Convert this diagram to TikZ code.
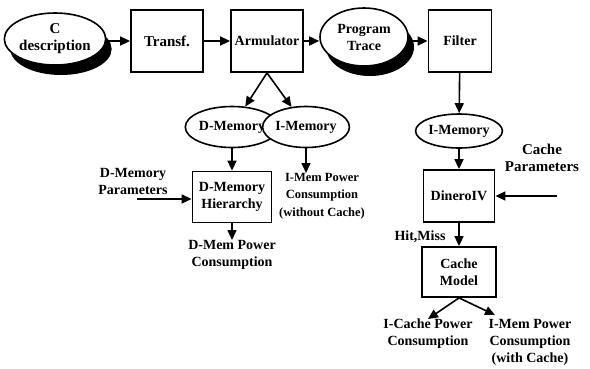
\documentclass[tikz,border=0pt]{standalone}
\usepackage{fontspec}
\setmainfont{Liberation Serif}
\usetikzlibrary{positioning, arrows.meta, shapes.geometric, shadows}

\begin{document}
\begin{tikzpicture}[
    x=1pt, y=-1pt,
    every node/.style={align=center, inner sep=0pt, font=\bfseries\fontsize{14}{17}\selectfont},
    block/.style={draw, line width=1.8pt, minimum width=72pt, minimum height=62pt},
    store/.style={ellipse, draw, fill=white, line width=1.6pt, inner sep=0pt},
    source/.style={store, drop shadow={shadow xshift=6pt, shadow yshift=-10pt, fill=black, opacity=1}},
    arr/.style={draw, -{Triangle[length=10pt, width=9pt]}, line width=1.6pt}
]
\useasboundingbox (0,0) rectangle (590,368);

% simulation flow along the top
\node[source, minimum width=83pt, minimum height=52pt, font=\bfseries\fontsize{15}{17}\selectfont] (cdesc) at (55,39) {C\\description};
\node[block, font=\bfseries\fontsize{15}{17}\selectfont] (transf) at (167,41) {Transf.};
\node[block] (arm) at (267,41) {Armulator};
\node[source, minimum width=88pt, minimum height=58pt] (trace) at (364,37) {Program\\Trace};
\node[block, minimum width=63pt] (filter) at (460,41) {Filter};

% data memory branch
\node[store, minimum width=78pt, minimum height=41pt] (dmem) at (232,127) {D-Memory};
\node[store, minimum width=69pt, minimum height=41pt] (imem) at (306,127) {I-Memory};
\node[block, minimum width=79pt, minimum height=51pt] (dhier) at (232,197) {D-Memory\\Hierarchy};
\node (dpar) at (133,181) {D-Memory\\Parameters};
\coordinate (dparin) at (137,199);
\node[anchor=north] (dpow) at (232,240) {D-Mem Power\\Consumption};
\node[anchor=north, font=\bfseries\fontsize{12.5}{17.5}\selectfont] (ipow) at (322,173) {I-Mem Power\\Consumption\\(without Cache)};

% instruction memory branch
\node[store, minimum width=70pt, minimum height=34pt] (icode) at (459,131) {I-Memory};
\node[block, minimum width=71pt, minimum height=52pt] (dinero) at (459,196) {DineroIV};
\node[font=\bfseries\fontsize{15}{17}\selectfont] (cpar) at (542,158) {Cache\\Parameters};
\coordinate (cparin) at (557,196);
\node (hit) at (420,237) {Hit,Miss};
\node[block, minimum width=74pt, minimum height=50pt] (cmodel) at (459,272) {Cache\\Model};
\node[anchor=north] (icpow) at (428,319) {I-Cache Power\\Consumption};
\node[anchor=north] (impow) at (530,319) {I-Mem Power\\Consumption\\(with Cache)};
\coordinate (imtip) at (495,315);

% connectors
\draw[arr] (cdesc.east |- transf) -- (transf.west);
\draw[arr] (transf) -- (arm);
\draw[arr] (arm.east) -- (arm.east -| trace.west);
\draw[arr] (trace.east |- filter) -- (filter.west);
\draw[arr] (arm.south) -- (dmem);
\draw[arr] (arm.south) -- (imem);
\draw[arr] (dmem) -- (dhier);
\draw[arr] (dparin) -- (dparin -| dhier.west);
\draw[arr] (dhier) -- (dpow);
\draw[arr] (imem.south) -- (imem.south |- ipow.north);
\draw[arr] (filter) -- (icode);
\draw[arr] (icode) -- (dinero);
\draw[arr] (cparin) -- (cparin -| dinero.east);
\draw[arr] (dinero) -- (cmodel);
\draw[arr] (cmodel.south) -- (icpow.north);
\draw[arr] (cmodel.south) -- (imtip);
\end{tikzpicture}
\end{document}
